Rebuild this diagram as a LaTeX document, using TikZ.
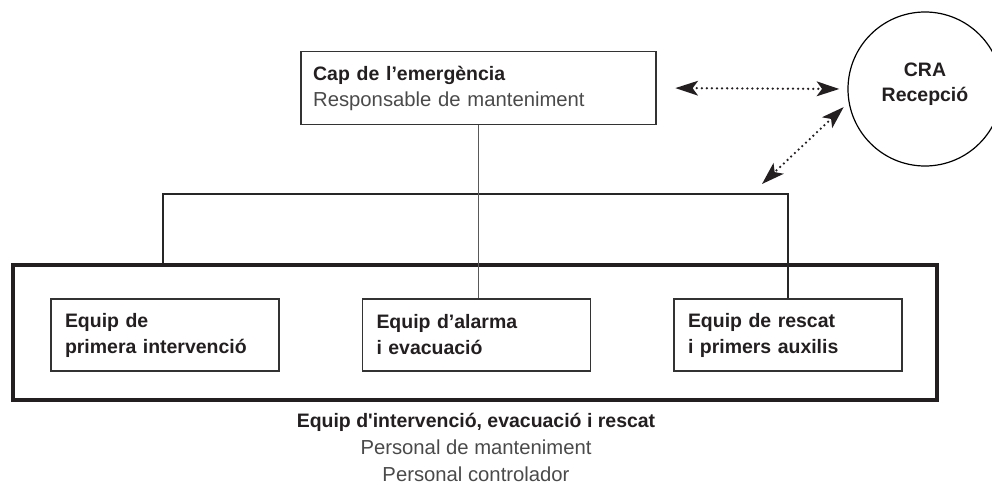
\documentclass[tikz,border=0pt]{standalone}
\usepackage{fontspec}
\setmainfont{Liberation Sans}
\usetikzlibrary{arrows.meta,calc}
\definecolor{inkdark}{HTML}{231F20}
\definecolor{inkgray}{HTML}{4A4A4A}
\tikzset{
  px/.style={x=0.75pt,y=-0.75pt},
  unitbox/.style={draw=black!80, line width=0.9pt, rectangle, align=left,
    minimum width=171pt, minimum height=54pt, text width=150pt, inner xsep=10.5pt,
    text=inkdark, font=\bfseries\fontsize{14.6pt}{19.5pt}\selectfont},
  headbox/.style={draw=black!80, line width=0.9pt, rectangle, align=left,
    minimum width=266.25pt, minimum height=54.75pt, text width=248pt, inner xsep=9pt,
    font=\fontsize{15.2pt}{19.5pt}\selectfont},
  groupbox/.style={draw=inkdark, line width=3pt, rectangle,
    minimum width=693pt, minimum height=101.25pt, inner sep=0pt},
  cracircle/.style={draw=black, line width=0.9pt, circle, minimum size=115.5pt, inner sep=0pt},
  boldtxt/.style={text=inkdark, font=\bfseries\fontsize{14.6pt}{19pt}\selectfont, align=center},
  trunk/.style={draw=black!65, line width=0.9pt},
  branch/.style={draw=black!85, line width=0.9pt},
  dotarrow/.style={draw=inkdark, line width=1.9pt, dash pattern=on 0pt off 3.8pt, line cap=round,
    {Stealth[length=17pt,width=11pt,inset=4pt]}-{Stealth[length=17pt,width=11pt,inset=4pt]}},
}
\begin{document}
\begin{tikzpicture}[px]
\useasboundingbox (0,0) rectangle (992,485);

% thick group frame
\node[groupbox] (group) at (474.5,332.5) {};

% head box
\node[headbox] (top) at (478.5,88) {{\bfseries\color{inkdark}\fontsize{14.6pt}{19.5pt}\selectfont Cap de l’emergència}\\{\color{inkgray}Responsable de manteniment}};

% CRA circle
\node[cracircle] (cra) at (925,89) {};
\node[boldtxt] (cratext) at (925,84.5) {CRA\\Recepció};

% team boxes
\node[unitbox] (box1) at (165,335) {Equip de\\primera intervenció};
\node[unitbox] (box2) at (476.5,335) {Equip d’alarma\\i evacuació};
\node[unitbox] (box3) at (788,335) {Equip de rescat\\i primers auxilis};

% connectors
\coordinate (barL) at (163,194);
\coordinate (barR) at (788,194);
\coordinate (teamtip) at (762,184);
\draw[branch] (box3.north) -- (barR) -- (barL) -- (barL |- group.north);
\draw[trunk] (top.south) -- (top.south |- box2.north);

% dotted arrows
\draw[dotarrow, shorten <=14pt, shorten >=6pt] (top.east) -- (cra.west);
\draw[dotarrow, shorten <=5pt] (cra.190) -- (teamtip);

% caption
\node[align=center, font=\fontsize{15.2pt}{20.25pt}\selectfont, text=inkgray] (caption) at (476,447.5)
  {{\bfseries\color{inkdark}\fontsize{14.6pt}{20.25pt}\selectfont Equip d\textquotesingle intervenció, evacuació i rescat}\\Personal de manteniment\\Personal controlador};
\end{tikzpicture}
\end{document}
